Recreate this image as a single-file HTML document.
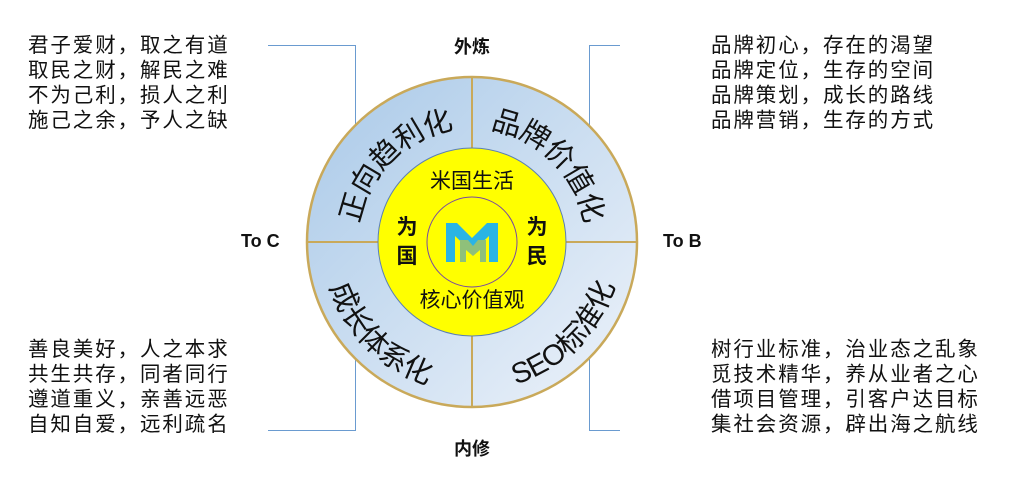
<!DOCTYPE html>
<html><head><meta charset="utf-8"><style>
html,body{margin:0;padding:0;background:#fff;}
body{width:1010px;height:489px;overflow:hidden;position:relative;font-family:"Liberation Sans","Noto Sans CJK SC",sans-serif;}
.t{position:absolute;font-size:20.5px;line-height:25px;letter-spacing:1.9px;color:#111;white-space:nowrap;}
.l{position:absolute;font-size:18px;font-weight:bold;color:#111;}
</style></head><body>
<svg width="1010" height="489" style="position:absolute;left:0;top:0" font-family="Liberation Sans, Noto Sans CJK SC, sans-serif">
<defs>
<linearGradient id="g" x1="0" y1="0" x2="1" y2="1">
<stop offset="0" stop-color="#a9c9e8"/><stop offset="1" stop-color="#eef3fa"/>
</linearGradient>
<path id="tl" d="M358,242 A114,114 0 0 1 472,128"/>
<path id="tr" d="M472,128 A114,114 0 0 1 586,242"/>
<path id="bl" d="M323,242 A149,149 0 0 0 472,391"/>
<path id="br" d="M472,391 A149,149 0 0 0 621,242"/>
</defs>
<g stroke="#6a9bd0" stroke-width="1" fill="none">
<polyline points="268,45.5 355.5,45.5 355.5,430.5 268,430.5"/>
<polyline points="620,45.5 589.5,45.5 589.5,430.5 620,430.5"/>
</g>
<circle cx="472" cy="242" r="165" fill="url(#g)" stroke="#c9a95a" stroke-width="2.5"/>
<line x1="307" y1="242" x2="637" y2="242" stroke="#c9a95a" stroke-width="2"/>
<line x1="472" y1="77" x2="472" y2="407" stroke="#c9a95a" stroke-width="2"/>
<g font-size="29" fill="#111" letter-spacing="-0.5">
<text><textPath href="#tl" startOffset="50%" text-anchor="middle">正向趋利化</textPath></text>
<text><textPath href="#tr" startOffset="50%" text-anchor="middle">品牌价值化</textPath></text>
<text><textPath href="#bl" startOffset="50%" text-anchor="middle">成长体系化</textPath></text>
<text><textPath href="#br" startOffset="50%" text-anchor="middle">SEO标准化</textPath></text>
</g>
<circle cx="472" cy="242" r="94" fill="#ffff00" stroke="#5b7fb5" stroke-width="1"/>
<circle cx="472" cy="242" r="45" fill="none" stroke="#7a4aa0" stroke-width="1"/>
<g font-size="21" fill="#111" text-anchor="middle">
<text x="472" y="188">米国生活</text>
<text x="472" y="307">核心价值观</text>
<text x="407" y="234" font-weight="bold">为</text>
<text x="407" y="263" font-weight="bold">国</text>
<text x="537" y="234" font-weight="bold">为</text>
<text x="537" y="263" font-weight="bold">民</text>
</g>
<path d="M446,223 L457,223 L472,238 L487,223 L498,223 L498,262 L489,262 L489,236 L472,252 L455,236 L455,262 L446,262 Z" fill="#2ab4e4"/>
<path d="M460,240 L468,240 L473,246 L478,240 L486,240 L486,262 L480,262 L480,250 L473,256 L466,250 L466,262 L460,262 Z" fill="#8fc07a"/>
</svg>
<div class="t" style="left:28px;top:33px">君子爱财，取之有道<br>取民之财，解民之难<br>不为己利，损人之利<br>施己之余，予人之缺</div>
<div class="t" style="left:28px;top:337px">善良美好，人之本求<br>共生共存，同者同行<br>遵道重义，亲善远恶<br>自知自爱，远利疏名</div>
<div class="t" style="left:711px;top:33px">品牌初心，存在的渴望<br>品牌定位，生存的空间<br>品牌策划，成长的路线<br>品牌营销，生存的方式</div>
<div class="t" style="left:711px;top:337px">树行业标准，治业态之乱象<br>觅技术精华，养从业者之心<br>借项目管理，引客户达目标<br>集社会资源，辟出海之航线</div>
<div class="l" style="left:454px;top:33px">外炼</div>
<div class="l" style="left:454px;top:435px">内修</div>
<div class="l" style="left:241px;top:231px">To C</div>
<div class="l" style="left:663px;top:231px">To B</div>
</body></html>
